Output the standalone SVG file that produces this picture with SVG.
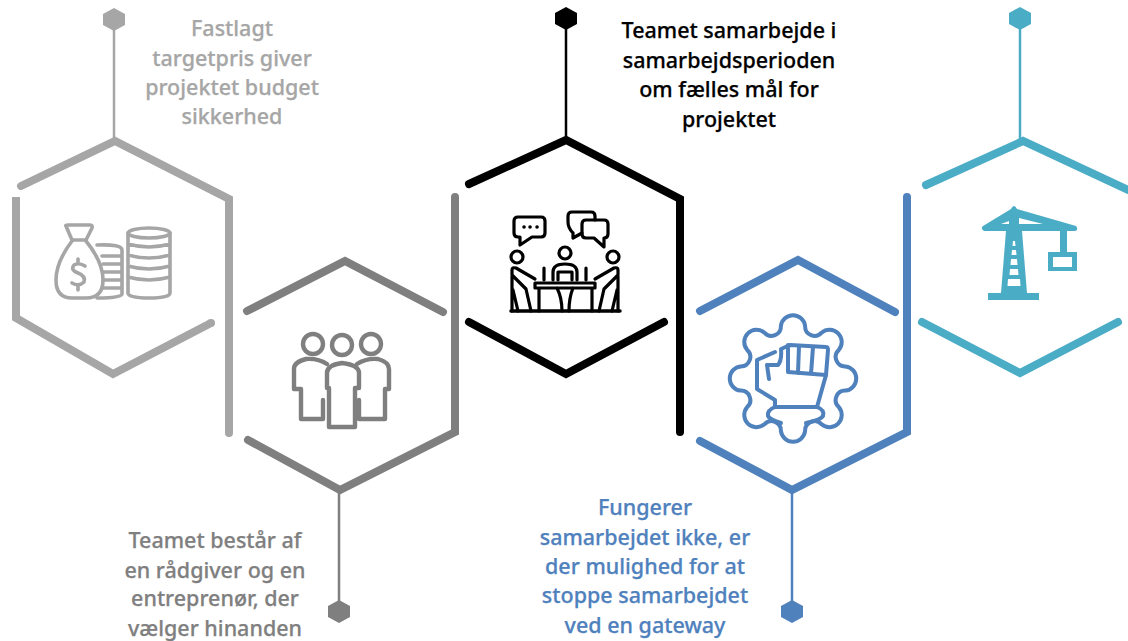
<svg xmlns="http://www.w3.org/2000/svg" width="1128" height="641" viewBox="0 0 1128 641">
<style>
text{font-family:"Noto Sans","Open Sans","DejaVu Sans",sans-serif;font-size:21.5px;font-weight:500;text-anchor:middle;stroke-width:.25}
.h{fill:none;stroke-width:8;stroke-linecap:round;stroke-linejoin:miter}
.s{fill:none;stroke-width:2.5}
.i{fill:none;stroke-linecap:round;stroke-linejoin:round}
.a{stroke:#a6a6a6}.b{stroke:#7f7f7f}.c{stroke:#000}.d{stroke:#4f81bd}.e{stroke:#4bacc6}
</style>
<rect width="1128" height="641" fill="#fff"/>
<g id="connectors">
<path class="s a" d="M114 20V141"/>
<path class="s b" d="M339 490V610"/>
<path class="s c" d="M566 20V141"/>
<path class="s d" d="M792 490V610"/>
<path class="s e" d="M1020 20V141"/>
</g>
<g id="node-1">
<path class="h a" d="M21 186L115 141L229 199V433"/>
<path class="h a" d="M16 197V318L113 374L211 323" style="stroke-linecap:butt"/>
<circle cx="211" cy="323" r="4" fill="#a6a6a6"/>
<polygon points="114,8 125,14 125,25 114,31 103,25 103,14" fill="#a6a6a6"/>
<g class="i a" stroke-width="3.6">
<path d="M66 226Q65 225 68 225H90Q93 225 92 228L86 240H72Z"/>
<path d="M72 241Q56 262 56 280Q56 298 72 298H86Q103 298 103 280Q103 262 86 241"/>
<path d="M85 266Q79 262 74 265Q70 270 78 273Q86 276 84 282Q79 287 72 283M78 259V262M78 286V290"/>
<path d="M97 245Q122 244 122 250V294Q122 298 97 298M102 256H122M103 264H122M103 272H122M103 280H122M102 288H122"/>
<ellipse cx="149" cy="233" rx="21" ry="5"/>
<path d="M128 233V293Q128 298 149 298Q170 298 170 293V233M128 244Q149 250 170 244M128 255Q149 261 170 255M128 266Q149 272 170 266M128 277Q149 283 170 277"/>
</g>
<g fill="#a6a6a6" stroke="#a6a6a6">
<text x="232" y="36">Fastlagt</text>
<text x="232" y="66">targetpris giver</text>
<text x="232" y="95">projektet budget</text>
<text x="232" y="124">sikkerhed</text>
</g>
</g>
<g id="node-2">
<path class="h b" d="M247 311L345 261L443 312"/>
<path class="h b" d="M248 440L340 490L455 432V197"/>
<polygon points="339,600 350,606 350,617 339,623 328,617 328,606" fill="#7f7f7f"/>
<g class="i b" stroke-width="4.4">
<circle cx="313" cy="344" r="10"/><circle cx="342" cy="345" r="10"/><circle cx="371" cy="344" r="10"/>
<path d="M327 388V373Q327 365 342 363Q359 365 359 373V388H355V427H329V388Z"/>
<path d="M327 364Q318 358 306 359Q294 362 294 369V389H301V419H323V400"/>
<path d="M357 364Q366 358 378 359Q389 362 389 369V389H385V419H359V400"/>
</g>
<g fill="#7f7f7f" stroke="#7f7f7f">
<text x="215" y="548">Teamet består af</text>
<text x="215" y="578">en rådgiver og en</text>
<text x="215" y="606">entreprenør, der</text>
<text x="215" y="636">vælger hinanden</text>
</g>
</g>
<g id="node-3">
<path class="h c" d="M469 184L566 140L680 199V432"/>
<path class="h c" d="M469 322L566 374L664 322"/>
<polygon points="566,7 577,13 577,24 566,30 555,24 555,13" fill="#000"/>
<g class="i c" stroke-width="3.2">
<path d="M518 217H541Q545 217 545 221V233Q545 237 541 237H532L520 245V237H518Q514 237 514 233V221Q514 217 518 217Z"/>
<path d="M524 227h.1M530 227h.1M537 227h.1" stroke-width="3.5"/>
<path d="M582 233L573 238V233Q568 228 568 222V216Q568 212 572 212H591Q595 212 595 216V220"/>
<path d="M586 220H604Q608 220 608 224V234Q608 238 604 238V247L594 238H586Q582 238 582 234V224Q582 220 586 220Z"/>
<circle cx="517" cy="257" r="6"/><circle cx="565" cy="253" r="6"/><circle cx="613" cy="257" r="6"/>
<path d="M511 311H620" stroke-width="3.5"/>
<path d="M535 283H595V288H535ZM539 288V311M592 288V311M557 288Q562 298 562 311M573 288Q569 298 569 311"/>
<path d="M512 311V270Q512 267 516 268L535 279M512 275L526 289L531 311M518 311L513 290"/>
<path d="M618 311V270Q618 267 614 268L595 279M618 275L604 289L599 311M612 311L617 290"/>
<path d="M553 280V272Q553 264 565 264Q577 264 577 272V280M558 280V272H572V280M544 268V280M586 268V280"/>
</g>
<g fill="#000" stroke="#000">
<text x="729" y="38">Teamet samarbejde i</text>
<text x="729" y="68">samarbejdsperioden</text>
<text x="729" y="97">om fælles mål for</text>
<text x="729" y="127">projektet</text>
</g>
</g>
<g id="node-4">
<path class="h d" d="M700 311L798 260L895 312"/>
<path class="h d" d="M700 441L792 490L907 432V197"/>
<polygon points="792,600 803,606 803,617 792,623 781,617 781,606" fill="#4f81bd"/>
<g class="i d" stroke-width="4">
<path d="M780.9 325.9A12.2 12.2 0 0 1 805.1 325.9A9.5 9.5 0 0 0 821.6 332.7A12.2 12.2 0 0 1 838.8 349.9A9.5 9.5 0 0 0 845.6 366.4A12.2 12.2 0 0 1 845.6 390.6A9.5 9.5 0 0 0 838.8 407.1A12.2 12.2 0 0 1 821.6 424.3A9.5 9.5 0 0 0 805.1 431.1A12.2 12.2 0 0 1 780.9 431.1A9.5 9.5 0 0 0 764.4 424.3A12.2 12.2 0 0 1 747.2 407.1A9.5 9.5 0 0 0 740.4 390.6A12.2 12.2 0 0 1 740.4 366.4A9.5 9.5 0 0 0 747.2 349.9A12.2 12.2 0 0 1 764.4 332.7A9.5 9.5 0 0 0 780.9 325.9Z"/>
<path d="M769 379L767 365H778Q782 360 781 349L790 345L826 347Q828 347 828 350L826 375L817 407H775V400L757 389V360L775 352"/>
<path d="M788 345V372L826 375M799 346L798 373M813 347L811 374"/>
<path d="M775 407Q767 410 768 416Q770 420 781 423M817 407Q825 410 823 416Q821 420 806 423"/>
</g>
<g fill="#4f81bd" stroke="#4f81bd">
<text x="645" y="515">Fungerer</text>
<text x="645" y="545">samarbejdet ikke, er</text>
<text x="645" y="574">der mulighed for at</text>
<text x="645" y="603">stoppe samarbejdet</text>
<text x="645" y="633">ved en gateway</text>
</g>
</g>
<g id="node-5">
<path class="h e" d="M926 185L1023 141L1128 190"/>
<path class="h e" d="M922 322L1020 373L1118 322"/>
<polygon points="1020,7 1031,13 1031,24 1020,30 1009,24 1009,13" fill="#4bacc6"/>
<path fill="#4bacc6" d="M1011 209Q1014 203 1017 209L1076 226Q1079 230 1075 231H1067V252H1077V271H1048V252H1060V231H1022L1027 293H1039V300H988V293H1001L1006 231H984Q980 228 983 226Z"/>
<path fill="#fff" d="M1053 257H1072V267H1053ZM1001 224L1009 221V224ZM1019 218L1043 224H1019ZM1013 241h2l.5 5h-3zM1012 250h4l.5 5h-5zM1011 259h6l.5 6h-7zM1010 269h8l.5 6h-9zM1008 279h12l.5 7h-13z"/>
</g>
</svg>
